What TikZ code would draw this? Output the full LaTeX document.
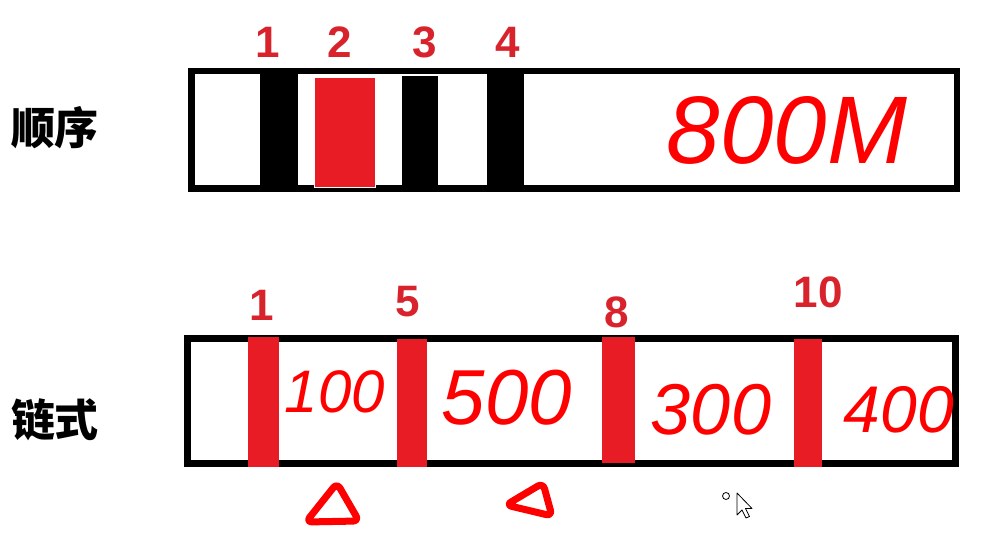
\documentclass[tikz,border=0pt]{standalone}
\usepackage{fontspec}
\setmainfont{Liberation Sans}
\newfontfamily\cjk{Noto Sans CJK SC}
\definecolor{barred}{HTML}{E81C24}
\definecolor{numred}{HTML}{D8232C}
\definecolor{inkred}{HTML}{FF0000}
\begin{document}
\begin{tikzpicture}[x=1pt,y=-1pt,
  frame/.style={draw=black,line width=6.5pt},
  blackbar/.style={fill=black,draw=none},
  redbar/.style={fill=barred,draw=none},
  numlabel/.style={text=numred,font=\fontsize{44}{44}\selectfont\bfseries,inner sep=0pt},
  cjklabel/.style={font=\cjk\bfseries\fontsize{44}{44}\selectfont,inner sep=0pt},
  ink/.style={text=inkred,font=\itshape,inner sep=0pt},
  tri/.style={draw=inkred,line width=7pt,line join=round,rounded corners=6pt}
]
\useasboundingbox (0,0) rectangle (999,534);
\fill[white] (0,0) rectangle (999,534);

% labels
\node[cjklabel] (lseq) at (55,128) {顺序};
\node[cjklabel] (llink) at (55,420) {链式};

% top box
\draw[frame] (191.25,71.25) rectangle (956.75,188.75);
\node[blackbar,minimum width=38pt,minimum height=118pt,inner sep=0pt] (b1) at (279,130) {};
\node[redbar,draw=white,line width=1pt,minimum width=61pt,minimum height=110pt,inner sep=0pt] (b2) at (344.5,133) {};
\node[blackbar,minimum width=36pt,minimum height=110pt,inner sep=0pt] (b3) at (420,131) {};
\node[blackbar,minimum width=37pt,minimum height=112pt,inner sep=0pt] (b4) at (505.5,130) {};
\node[numlabel] (n1) at (268,42) {1};
\node[numlabel] (n2) at (340,42) {2};
\node[numlabel] (n3) at (425,42) {3};
\node[numlabel] (n4) at (508,42) {4};
\node[ink,font=\itshape\fontsize{96}{96}\selectfont] (t800) at (787,130) {800M};

% bottom box
\draw[frame,line width=7pt] (187.5,338.5) rectangle (955.5,463.5);
\node[redbar,minimum width=31pt,minimum height=130pt,inner sep=0pt] (r1) at (263.5,402) {};
\node[redbar,minimum width=30pt,minimum height=128pt,inner sep=0pt] (r2) at (412,403) {};
\node[redbar,minimum width=33pt,minimum height=126pt,inner sep=0pt] (r3) at (618.5,400) {};
\node[redbar,minimum width=28pt,minimum height=128pt,inner sep=0pt] (r4) at (808,403) {};
\node[numlabel] (m1) at (262,305) {1};
\node[numlabel] (m5) at (408,302) {5};
\node[numlabel] (m8) at (617,312) {8};
\node[numlabel] (m10) at (818,292) {10};
\node[ink,font=\itshape\fontsize{60}{60}\selectfont] (t100) at (335,392) {100};
\node[ink,font=\itshape\fontsize{78}{78}\selectfont] (t500) at (507,398) {500};
\node[ink,font=\itshape\fontsize{72}{72}\selectfont] (t300) at (711,410) {300};
\node[ink,font=\itshape\fontsize{66}{66}\selectfont] (t400) at (899,410) {400};

% triangles
\draw[tri] (337,483) -- (306,522) -- (359,521) -- cycle;
\draw[tri] (543,483) -- (506,505) -- (552,516) -- cycle;

% cursor
\draw[line width=0.8pt] (726,496) circle (3.5pt);
\draw[fill=white,line width=0.8pt,line join=round] (737,493) -- (737,515) -- (742,510) -- (746,518) -- (749.5,516.5) -- (745.5,508.5) -- (752,508.5) -- cycle;
\end{tikzpicture}
\end{document}
